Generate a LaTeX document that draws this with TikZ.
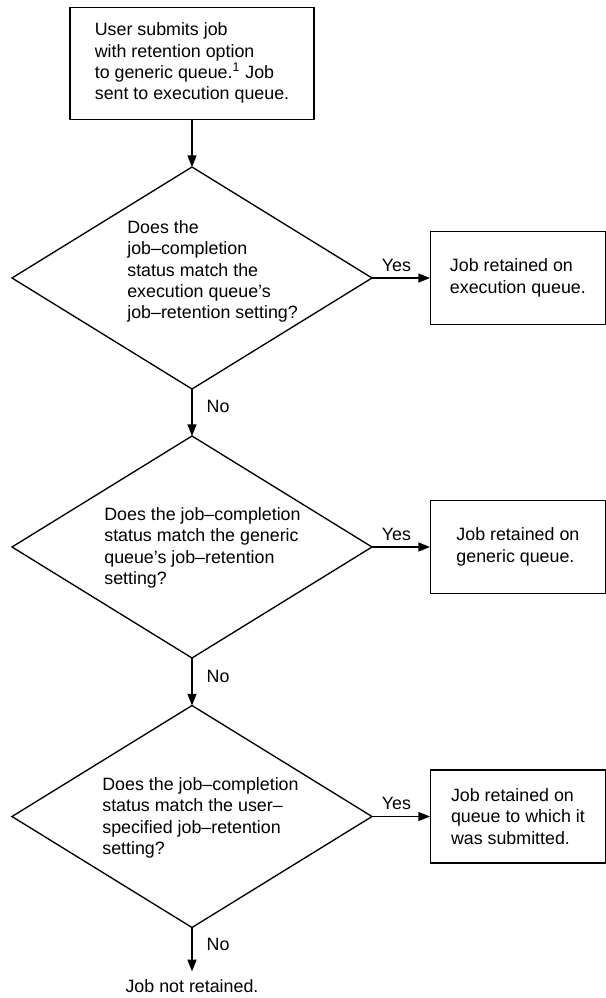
\documentclass[tikz,border=0pt]{standalone}
\usepackage{fontspec}
\setmainfont{Liberation Sans}
\usepackage{tikz}
\usetikzlibrary{shapes.geometric, arrows.meta, positioning}

\begin{document}
\begin{tikzpicture}[x=0.6pt, y=-0.6pt,
    every node/.style={font=\fontsize{10.7pt}{12.8pt}\selectfont},
    decision/.style={draw, diamond, line width=0.8pt, minimum width=216pt, minimum height=133.2pt, inner sep=0pt, outer sep=0pt},
    qtext/.style={anchor=north west, align=left, inner sep=0pt, execute at begin node=\strut},
    startbox/.style={draw, rectangle, line width=0.8pt, align=left, minimum width=146.4pt, minimum height=67.2pt},
    outbox/.style={draw, rectangle, line width=0.8pt, align=left, minimum width=104.7pt, minimum height=55.8pt},
    flow/.style={-{Triangle[length=7pt,width=5.4pt]}, line width=0.8pt},
    yeslabel/.style={above=3.6pt, inner sep=0pt, pos=0.42},
    nolabel/.style={right=8.4pt, inner sep=0pt, pos=0.38},
    endtext/.style={inner xsep=0pt, inner ysep=5pt}]
      \useasboundingbox (0,0) rectangle (605,998);
      \node [decision] (q1) at (192,278) {};
      \node [decision] (q2) at (192,547) {};
      \node [decision] (q3) at (192,816.5) {};
      \node [qtext] (t1) at (127,220.1) {Does the\\job--completion\\status match the\\execution queue's\\job--retention setting?};
      \node [qtext] (t2) at (104,507.1) {Does the job--completion\\status match the generic\\queue's job--retention\\setting?};
      \node [qtext] (t3) at (102,777.1) {Does the job--completion\\status match the user--\\specified job--retention\\setting?};
      \node [startbox, above=28.2pt of q1] (start) {User submits job\\with retention option\\to generic queue.\textsuperscript{1} Job\\sent to execution queue.};
      \node [outbox, right=34.8pt of q1] (r1) {Job retained on\\execution queue.};
      \node [outbox, right=34.8pt of q2] (r2) {Job retained on\\generic queue.};
      \node [outbox, right=34.8pt of q3] (r3) {Job retained on\\queue to which it\\was submitted.};
      \node [endtext] (stop) at (192,986.6) {Job not retained.};
      \draw [flow] (start.south) -- (q1.north);
      \draw [flow] (q1.east) -- node [yeslabel] {Yes} (r1.west);
      \draw [flow] (q2.east) -- node [yeslabel] {Yes} (r2.west);
      \draw [flow] (q3.east) -- node [yeslabel] {Yes} (r3.west);
      \draw [flow] (q1.south) -- node [nolabel] {No} (q2.north);
      \draw [flow] (q2.south) -- node [nolabel] {No} (q3.north);
      \draw [flow] (q3.south) -- node [nolabel] {No} (stop.north);
\end{tikzpicture}
\end{document}
